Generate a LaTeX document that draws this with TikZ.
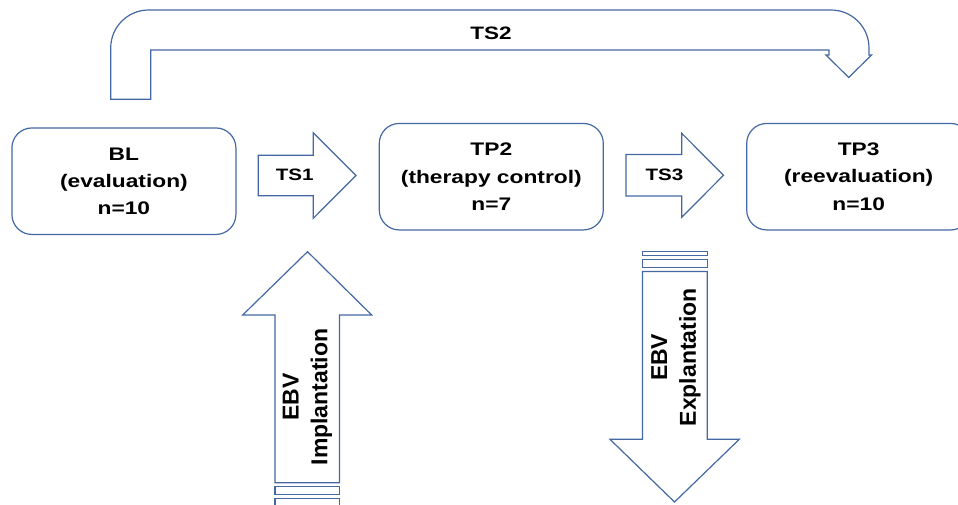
\documentclass[tikz,border=0pt]{standalone}
\usepackage{fontspec}
\setmainfont{Liberation Sans}
\newfontfamily\wfont[FakeStretch=1.25]{Liberation Sans}
\definecolor{ln}{RGB}{68,104,163}
\begin{document}
\begin{tikzpicture}[x=1pt,y=-1pt,
  shp/.style={draw=ln, line width=1.2pt, line join=miter, fill=white},
  boxn/.style={draw=ln, line width=1.2pt, rounded corners=20pt, minimum width=224pt,
    minimum height=106.5pt, inner sep=0pt, align=center,
    font=\wfont\bfseries\fontsize{18.2}{27.3}\selectfont},
  lbl/.style={font=\wfont\bfseries\fontsize{16.5}{20}\selectfont, inner sep=0pt},
  lblbig/.style={font=\wfont\bfseries\fontsize{18}{20}\selectfont, inner sep=0pt},
  vlbl/.style={font=\bfseries\fontsize{23}{28.6}\selectfont, rotate=90, align=center, inner sep=0pt}]
\useasboundingbox (0,0) rectangle (958,504);
\fill[white] (0,0) rectangle (958,504);
\clip (0,0) rectangle (958,504);

% boxes
\node[boxn] (bl)  at (123.9,181.2) {BL\\(evaluation)\\n=10};
\node[boxn] (tp2) at (491.3,176.7) {TP2\\(therapy control)\\n=7};
\node[boxn] (tp3) at (858.7,176.7) {TP3\\(reevaluation)\\n=10};

% TS1 block arrow
\draw[shp] (258.3,155.3) -- (313.3,155.3) -- (313.3,132.7) -- (356,175.5)
  -- (313.3,218.3) -- (313.3,195.7) -- (258.3,195.7) -- cycle;
\node[lbl] (ts1) at (294.7,175) {TS1};

% TS3 block arrow
\draw[shp] (626,154.5) -- (681.7,154.5) -- (681.7,133.3) -- (723.5,175.3)
  -- (681.7,217.3) -- (681.7,196) -- (626,196) -- cycle;
\node[lbl] (ts3) at (664.5,175) {TS3};

% TS2 bent arrow
\draw[shp] (110.7,99.3) -- (110.7,48)
  .. controls (110.7,27) and (127.7,10) .. (148.7,10)
  -- (831,10)
  .. controls (852,10) and (869,27) .. (869,48)
  -- (869,55) -- (871.5,55) -- (848.7,77.5) -- (826,55) -- (829,55)
  -- (829,50) -- (150.7,50) -- (150.7,99.3) -- cycle;
\node[lblbig] (ts2) at (491,33.3) {TS2};

% EBV implantation (up, striped)
\draw[shp] (275,482.7) -- (275,315) -- (242.7,315) -- (307.5,251.7) -- (371.7,315)
  -- (339.5,315) -- (339.5,482.7) -- cycle;
\draw[shp] (275,486.7) rectangle (339.5,494.3);
\draw[shp] (275,498.5) rectangle (339.5,506);
\node[vlbl] (impl) at (307.5,397) {EBV\\Implantation};

% EBV explantation (down, striped)
\draw[shp] (642.5,251.7) rectangle (707.3,255.5);
\draw[shp] (642.5,259.3) rectangle (707.3,267.3);
\draw[shp] (642.5,271.5) -- (707.3,271.5) -- (707.3,439.3) -- (739.3,439.3)
  -- (674.5,502) -- (610,439.3) -- (642.5,439.3) -- cycle;
\node[vlbl] (expl) at (676,357.3) {EBV\\Explantation};
\end{tikzpicture}
\end{document}
